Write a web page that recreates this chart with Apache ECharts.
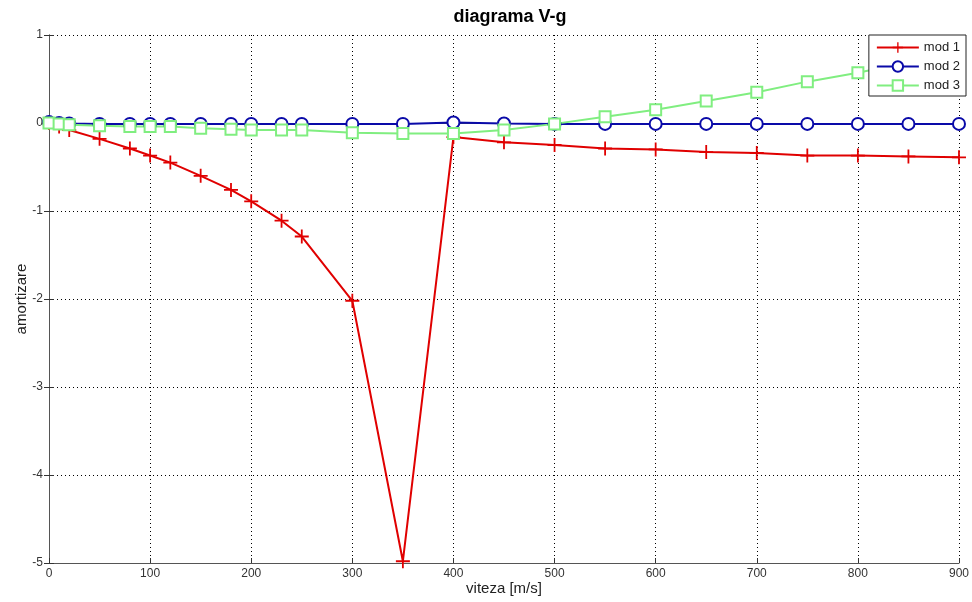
<!DOCTYPE html>
<html>
<head>
<meta charset="utf-8">
<script src="https://cdn.jsdelivr.net/npm/echarts@6/dist/echarts.min.js"></script>
<style>html,body{margin:0;padding:0;background:#fff}#c{width:972px;height:602px}</style>
</head>
<body>
<div id="c"></div>
<script>
var speeds = [0, 10, 20, 50, 80, 100, 120, 150, 180, 200, 230, 250, 300, 350, 400, 450, 500, 550, 600, 650, 700, 750, 800, 850, 900];
var mod1 = [0, -0.04, -0.08, -0.18, -0.29, -0.37, -0.45, -0.60, -0.76, -0.89, -1.11, -1.29, -2.02, -4.98, -0.16, -0.22, -0.25, -0.29, -0.30, -0.33, -0.34, -0.37, -0.37, -0.38, -0.39];
var mod2 = [0.01, 0, -0.005, -0.01, -0.01, -0.01, -0.01, -0.01, -0.01, -0.01, -0.01, -0.01, -0.01, -0.01, 0.005, -0.005, -0.01, -0.01, -0.01, -0.01, -0.01, -0.01, -0.01, -0.01, -0.01];
var mod3 = [0, -0.01, -0.02, -0.03, -0.04, -0.04, -0.04, -0.06, -0.07, -0.08, -0.08, -0.08, -0.11, -0.12, -0.12, -0.08, -0.01, 0.07, 0.15, 0.25, 0.35, 0.47, 0.57, 0.69, 0.81];
var seriesNames = ['mod 1', 'mod 2', 'mod 3'];
var xTicks = {min: 0, max: 900, interval: 100};
var yTicks = {min: -5, max: 1, interval: 1};

function pairs(vals) { return speeds.map(function (x, i) { return [x, vals[i]]; }); }

var font = 'Liberation Sans, Arial, sans-serif';
var plus = 'path://M6.1,0H7.9V6.1H14V7.9H7.9V14H6.1V7.9H0V6.1H6.1Z';

var chart = echarts.init(document.getElementById('c'));
var axisCommon = {
  axisLine: {show: true, onZero: false, lineStyle: {color: '#555', width: 1}},
  axisTick: {show: true, inside: true, length: 5, lineStyle: {color: '#333'}},
  splitLine: {show: true, lineStyle: {color: '#000', type: [1, 3], width: 1}},
  axisLabel: {color: '#333', fontFamily: font, fontSize: 12}
};
chart.setOption({
  animation: false,
  backgroundColor: '#fff',
  textStyle: {fontFamily: font},
  title: {
    text: 'diagrama V-g', left: 505, textAlign: 'center', top: 3,
    textStyle: {fontFamily: font, fontSize: 18, fontWeight: 'bold', color: '#000'}
  },
  grid: {left: 49, right: 10, top: 35, bottom: 39},
  legend: {
    orient: 'vertical', right: 6, top: 35,
    backgroundColor: '#fff', borderColor: '#222', borderWidth: 1,
    padding: [6, 6, 4, 7], itemGap: 6, itemWidth: 42, itemHeight: 13,
    textStyle: {fontFamily: font, fontSize: 13, color: '#222'},
    data: seriesNames
  },
  xAxis: [
    Object.assign({}, axisCommon, {
      type: 'value', min: xTicks.min, max: xTicks.max, interval: xTicks.interval,
      name: 'viteza [m/s]', nameLocation: 'middle', nameGap: 18, nameMoveOverlap: false,
      nameTextStyle: {fontFamily: font, fontSize: 15, color: '#222'},
      axisLabel: Object.assign({}, axisCommon.axisLabel, {margin: 5})
    }),
    {type: 'value', position: 'top', min: xTicks.min, max: xTicks.max, interval: xTicks.interval,
     axisLine: {show: true, lineStyle: {color: '#555'}},
     axisTick: {show: true, inside: true, length: 5, lineStyle: {color: '#333'}},
     axisLabel: {show: false}, splitLine: {show: false}}
  ],
  yAxis: [
    Object.assign({}, axisCommon, {
      type: 'value', min: yTicks.min, max: yTicks.max, interval: yTicks.interval,
      name: 'amortizare', nameLocation: 'middle', nameGap: 20, nameMoveOverlap: false,
      nameTextStyle: {fontFamily: font, fontSize: 15, color: '#222'},
      axisLabel: Object.assign({}, axisCommon.axisLabel, {margin: 6})
    }),
    {type: 'value', position: 'right', min: yTicks.min, max: yTicks.max, interval: yTicks.interval,
     axisLine: {show: true, lineStyle: {color: '#555'}},
     axisTick: {show: true, inside: true, length: 5, lineStyle: {color: '#333'}},
     axisLabel: {show: false}, splitLine: {show: false}}
  ],
  series: [
    {
      name: seriesNames[0], type: 'line', data: pairs(mod1), clip: false,
      symbol: plus, symbolSize: 14,
      lineStyle: {color: '#e00000', width: 2},
      itemStyle: {color: '#e00000'}
    },
    {
      name: seriesNames[1], type: 'line', data: pairs(mod2), clip: false,
      symbol: 'emptyCircle', symbolSize: 12,
      lineStyle: {color: '#0a0aa8', width: 2},
      itemStyle: {color: '#0a0aa8', borderWidth: 1.5}
    },
    {
      name: seriesNames[2], type: 'line', data: pairs(mod3), clip: false,
      symbol: 'emptyRect', symbolSize: 11,
      lineStyle: {color: '#80ee80', width: 2},
      itemStyle: {color: '#80ee80', borderWidth: 1.5}
    }
  ]
});
</script>
</body>
</html>
